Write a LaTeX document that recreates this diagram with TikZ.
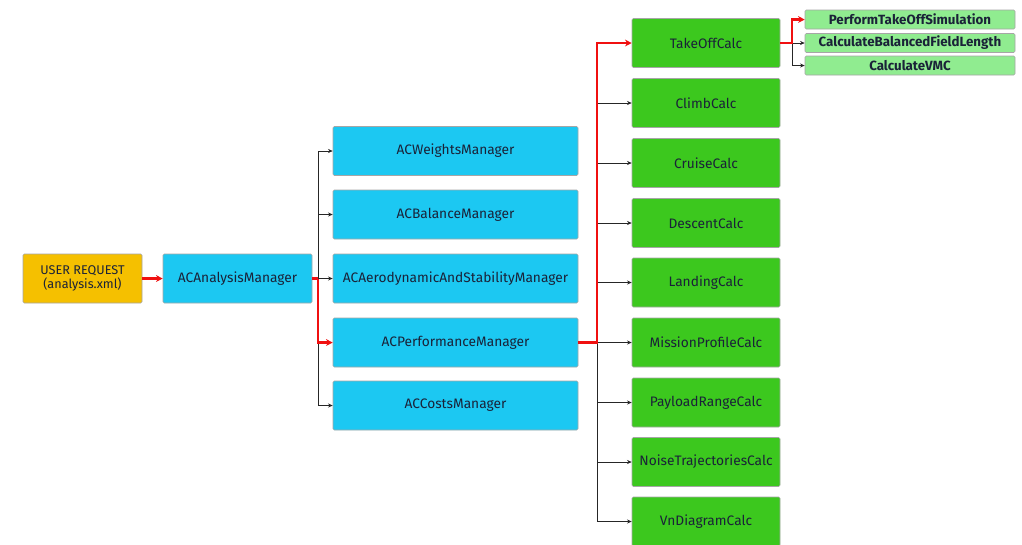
\documentclass[tikz,border=0pt]{standalone}
\usepackage{fontspec}
\setmainfont{Fira Sans}
\usetikzlibrary{arrows.meta}
\definecolor{gold}{HTML}{F5C000}
\definecolor{cyanbox}{HTML}{1CC8F2}
\definecolor{greenbox}{HTML}{3CC81E}
\definecolor{lightgreen}{HTML}{90EC90}
\definecolor{redline}{HTML}{F01010}
\definecolor{txt}{HTML}{1A2238}
\tikzset{
  box/.style={draw=black!35, line width=0.4pt, rounded corners=1pt, inner sep=0pt, align=center, text=txt, font=\fontsize{10.3}{11}\selectfont},
  reqbox/.style={box, fill=gold, minimum width=119*0.75pt, minimum height=49*0.75pt, font=\fontsize{9.5}{10.5}\selectfont},
  mgrbox/.style={box, fill=cyanbox, minimum width=149*0.75pt, minimum height=49*0.75pt},
  colbox/.style={box, fill=cyanbox, minimum width=245*0.75pt, minimum height=49*0.75pt},
  calcbox/.style={box, fill=greenbox, minimum width=148*0.75pt, minimum height=49*0.75pt},
  subbox/.style={box, fill=lightgreen, minimum width=210*0.75pt, minimum height=19*0.75pt, font=\fontsize{10}{10}\selectfont\bfseries},
  blk/.style={draw=black!85, line width=0.6pt, -{Stealth[length=3.5pt,width=3pt]}},
  redl/.style={draw=redline, line width=2pt, -{Stealth[length=5pt,width=5pt]}},
  redn/.style={draw=redline, line width=2pt}
}
\begin{document}
\begin{tikzpicture}[x=0.75pt,y=-0.75pt]
\useasboundingbox[fill=white] (0,0) rectangle (1022,544);
% left
\node[reqbox] (req) at (82.5,278.5) {USER REQUEST\\(analysis.xml)};
\node[mgrbox] (am) at (237.5,278.5) {ACAnalysisManager};
% managers
\node[colbox] (w) at (455.5,151) {ACWeightsManager};
\node[colbox] (b) at (455.5,214.5) {ACBalanceManager};
\node[colbox] (aero) at (455.5,278.5) {ACAerodynamicAndStabilityManager};
\node[colbox] (perf) at (455.5,342.5) {ACPerformanceManager};
\node[colbox] (cost) at (455.5,405.5) {ACCostsManager};
% calcs
\node[calcbox] (to) at (706,43) {TakeOffCalc};
\node[calcbox] (cl) at (706,103) {ClimbCalc};
\node[calcbox] (cr) at (706,163) {CruiseCalc};
\node[calcbox] (de) at (706,223) {DescentCalc};
\node[calcbox] (la) at (706,282.5) {LandingCalc};
\node[calcbox] (mp) at (706,342.5) {MissionProfileCalc};
\node[calcbox] (pr) at (706,402.5) {PayloadRangeCalc};
\node[calcbox] (nt) at (706,462) {NoiseTrajectoriesCalc};
\node[calcbox] (vn) at (706,521.5) {VnDiagramCalc};
% sub
\node[subbox] (pts) at (910,19.5) {PerformTakeOffSimulation};
\node[subbox] (cbf) at (910,43) {CalculateBalancedFieldLength};
\node[subbox] (vmc) at (910,65.5) {CalculateVMC};
% junctions
\coordinate (j1) at (318,278.5);
\coordinate (j2) at (597,342.5);
\coordinate (j3) at (792,43);
% connectors
\draw[redl] (req.east) -- (am.west);
\draw[blk] (j1) |- (w.west);
\draw[blk] (j1) |- (b.west);
\draw[blk] (j1) -- (aero.west);
\draw[blk] (j1) |- (cost.west);
\draw[redn] (am.east) -- (j1);
\draw[redl] (j1) |- (perf.west);
\draw[blk] (j2) |- (cl.west);
\draw[blk] (j2) |- (cr.west);
\draw[blk] (j2) |- (de.west);
\draw[blk] (j2) |- (la.west);
\draw[blk] (j2) -- (mp.west);
\draw[blk] (j2) |- (pr.west);
\draw[blk] (j2) |- (nt.west);
\draw[blk] (j2) |- (vn.west);
\draw[redl] (perf.east) -- (j2) |- (to.west);
\draw[blk] (j3) -- (cbf.west);
\draw[blk] (j3) |- (vmc.west);
\draw[redl] (to.east) -- (j3) |- (pts.west);
\end{tikzpicture}
\end{document}
